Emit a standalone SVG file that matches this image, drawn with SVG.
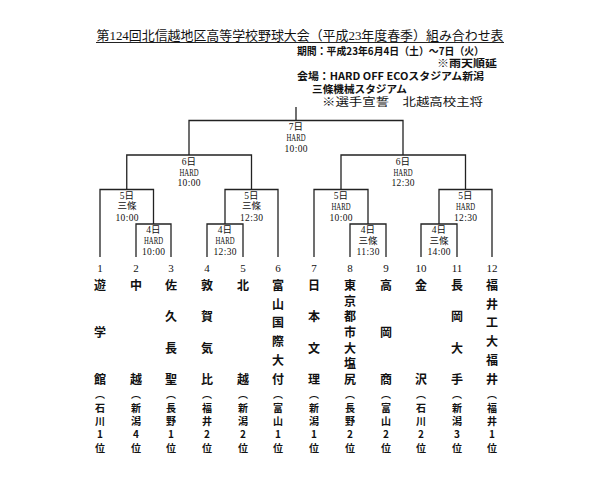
<svg xmlns="http://www.w3.org/2000/svg" width="598" height="485" viewBox="0 0 598 485">
<style>
.hd{font-family:"Liberation Serif","Noto Sans CJK JP",serif;font-size:13px;fill:#111}
.hb{font-family:"Noto Sans CJK JP","Liberation Sans",sans-serif;font-size:10.5px;font-weight:bold;fill:#111}
.hs{font-family:"Liberation Serif","Noto Sans CJK JP",serif;font-size:11px;fill:#111}
.lb{font-family:"Liberation Serif","Noto Sans CJK JP",serif;font-size:9.5px;fill:#111;text-anchor:middle;dominant-baseline:central}
.num{font-family:"Liberation Serif","Noto Sans CJK JP",serif;font-size:11px;fill:#111;text-anchor:middle;dominant-baseline:central}
.nm{font-family:"Noto Sans CJK JP","Liberation Sans",sans-serif;font-size:12px;font-weight:bold;fill:#111;text-anchor:middle;dominant-baseline:central}
.pf{font-family:"Noto Sans CJK JP","Liberation Sans",sans-serif;font-size:10px;font-weight:bold;fill:#111;text-anchor:middle;dominant-baseline:central}
.ln{fill:none;stroke:#222;stroke-width:1.3}
</style>
<rect width="598" height="485" fill="#fff"/>
<g id="header">
<text class="hd" x="96.5" y="40" textLength="407" lengthAdjust="spacingAndGlyphs">第124回北信越地区高等学校野球大会（平成23年度春季）組み合わせ表</text>
<line x1="96" y1="42.5" x2="504" y2="42.5" stroke="#222" stroke-width="1"/>
<text class="hb" x="297" y="54.5" textLength="187" lengthAdjust="spacingAndGlyphs">期間：平成23年6月4日（土）～7日（火）</text>
<text class="hb" x="437" y="67" textLength="60" lengthAdjust="spacingAndGlyphs">※雨天順延</text>
<text class="hb" x="297" y="80" textLength="187" lengthAdjust="spacingAndGlyphs">会場：HARD OFF ECOスタジアム新潟</text>
<text class="hb" x="312" y="93" textLength="95" lengthAdjust="spacingAndGlyphs">三條機械スタジアム</text>
<text class="hs" x="322" y="105.5" textLength="161" lengthAdjust="spacingAndGlyphs">※選手宣誓　北越高校主将</text>
</g>
<g id="connectors" class="ln">
<line x1="296" y1="107" x2="296" y2="120.5"/>
<polyline points="189,155 189,120.5 403,120.5 403,155"/>
<polyline points="126.75,189.5 126.75,155 251.5,155 251.5,189.5"/>
<polyline points="341,189.5 341,155 465.5,155 465.5,189.5"/>
<polyline points="100,257 100,189.5 153.5,189.5 153.5,224"/>
<polyline points="225,224 225,189.5 278,189.5 278,257"/>
<polyline points="314,257 314,189.5 368,189.5 368,224"/>
<polyline points="439,224 439,189.5 492,189.5 492,257"/>
<polyline points="136,257 136,224 171,224 171,257"/>
<polyline points="207,257 207,224 243,224 243,257"/>
<polyline points="350,257 350,224 386,224 386,257"/>
<polyline points="421,257 421,224 457,224 457,257"/>
</g>
<g id="m-final"><text class="lb" x="296" y="126.5">7日</text><text class="lb" x="296" y="137.5" textLength="19" lengthAdjust="spacingAndGlyphs">HARD</text><text class="lb" x="296" y="149" textLength="23">10:00</text></g>
<g id="m-sf1"><text class="lb" x="189" y="161.5">6日</text><text class="lb" x="189" y="172.5" textLength="19" lengthAdjust="spacingAndGlyphs">HARD</text><text class="lb" x="189" y="183" textLength="23">10:00</text></g>
<g id="m-sf2"><text class="lb" x="403" y="161.5">6日</text><text class="lb" x="403" y="172.5" textLength="19" lengthAdjust="spacingAndGlyphs">HARD</text><text class="lb" x="403" y="183" textLength="23">12:30</text></g>
<g id="m-qf1"><text class="lb" x="127" y="195.5">5日</text><text class="lb" x="127" y="206">三條</text><text class="lb" x="127" y="217.5" textLength="23">10:00</text></g>
<g id="m-qf2"><text class="lb" x="251.5" y="195.5">5日</text><text class="lb" x="251.5" y="206">三條</text><text class="lb" x="251.5" y="217.5" textLength="23">12:30</text></g>
<g id="m-qf3"><text class="lb" x="341" y="195.5">5日</text><text class="lb" x="341" y="206.5" textLength="19" lengthAdjust="spacingAndGlyphs">HARD</text><text class="lb" x="341" y="217.5" textLength="23">10:00</text></g>
<g id="m-qf4"><text class="lb" x="465.5" y="195.5">5日</text><text class="lb" x="465.5" y="206.5" textLength="19" lengthAdjust="spacingAndGlyphs">HARD</text><text class="lb" x="465.5" y="217.5" textLength="23">12:30</text></g>
<g id="m-r1a"><text class="lb" x="153.5" y="230">4日</text><text class="lb" x="153.5" y="241" textLength="19" lengthAdjust="spacingAndGlyphs">HARD</text><text class="lb" x="153.5" y="252" textLength="23">10:00</text></g>
<g id="m-r1b"><text class="lb" x="225" y="230">4日</text><text class="lb" x="225" y="241" textLength="19" lengthAdjust="spacingAndGlyphs">HARD</text><text class="lb" x="225" y="252" textLength="23">12:30</text></g>
<g id="m-r1c"><text class="lb" x="368" y="230">4日</text><text class="lb" x="368" y="240.5">三條</text><text class="lb" x="368" y="252" textLength="23">11:30</text></g>
<g id="m-r1d"><text class="lb" x="439" y="230">4日</text><text class="lb" x="439" y="240.5">三條</text><text class="lb" x="439" y="252" textLength="23">14:00</text></g>
<g id="team1"><text class="num" x="100" y="267.5">1</text><text class="nm" x="100 100 100" y="284.3 331.3 378.3">遊学館</text><text class="pf" x="100 100 100 100 100" y="393.7 407 420.3 433.7 447">︵石川1位</text></g>
<g id="team2"><text class="num" x="136" y="267.5">2</text><text class="nm" x="136 136" y="284.3 378.3">中越</text><text class="pf" x="136 136 136 136 136" y="393.7 407 420.3 433.7 447">︵新潟4位</text></g>
<g id="team3"><text class="num" x="171" y="267.5">3</text><text class="nm" x="171 171 171 171" y="284.3 315.6 347 378.3">佐久長聖</text><text class="pf" x="171 171 171 171 171" y="393.7 407 420.3 433.7 447">︵長野1位</text></g>
<g id="team4"><text class="num" x="207" y="267.5">4</text><text class="nm" x="207 207 207 207" y="284.3 315.6 347 378.3">敦賀気比</text><text class="pf" x="207 207 207 207 207" y="393.7 407 420.3 433.7 447">︵福井2位</text></g>
<g id="team5"><text class="num" x="243" y="267.5">5</text><text class="nm" x="243 243" y="284.3 378.3">北越</text><text class="pf" x="243 243 243 243 243" y="393.7 407 420.3 433.7 447">︵新潟2位</text></g>
<g id="team6"><text class="num" x="278" y="267.5">6</text><text class="nm" x="278 278 278 278 278 278" y="284.3 303.1 321.9 340.7 359.5 378.3">富山国際大付</text><text class="pf" x="278 278 278 278 278" y="393.7 407 420.3 433.7 447">︵富山1位</text></g>
<g id="team7"><text class="num" x="314" y="267.5">7</text><text class="nm" x="314 314 314 314" y="284.3 315.6 347 378.3">日本文理</text><text class="pf" x="314 314 314 314 314" y="393.7 407 420.3 433.7 447">︵新潟1位</text></g>
<g id="team8"><text class="num" x="350" y="267.5">8</text><text class="nm" x="350 350 350 350 350 350 350" y="284.3 300 315.6 331.3 347 362.6 378.3">東京都市大塩尻</text><text class="pf" x="350 350 350 350 350" y="393.7 407 420.3 433.7 447">︵長野2位</text></g>
<g id="team9"><text class="num" x="386" y="267.5">9</text><text class="nm" x="386 386 386" y="284.3 331.3 378.3">高岡商</text><text class="pf" x="386 386 386 386 386" y="393.7 407 420.3 433.7 447">︵富山2位</text></g>
<g id="team10"><text class="num" x="421" y="267.5">10</text><text class="nm" x="421 421" y="284.3 378.3">金沢</text><text class="pf" x="421 421 421 421 421" y="393.7 407 420.3 433.7 447">︵石川2位</text></g>
<g id="team11"><text class="num" x="457" y="267.5">11</text><text class="nm" x="457 457 457 457" y="284.3 315.6 347 378.3">長岡大手</text><text class="pf" x="457 457 457 457 457" y="393.7 407 420.3 433.7 447">︵新潟3位</text></g>
<g id="team12"><text class="num" x="492" y="267.5">12</text><text class="nm" x="492 492 492 492 492 492" y="284.3 303.1 321.9 340.7 359.5 378.3">福井工大福井</text><text class="pf" x="492 492 492 492 492" y="393.7 407 420.3 433.7 447">︵福井1位</text></g>
</svg>
